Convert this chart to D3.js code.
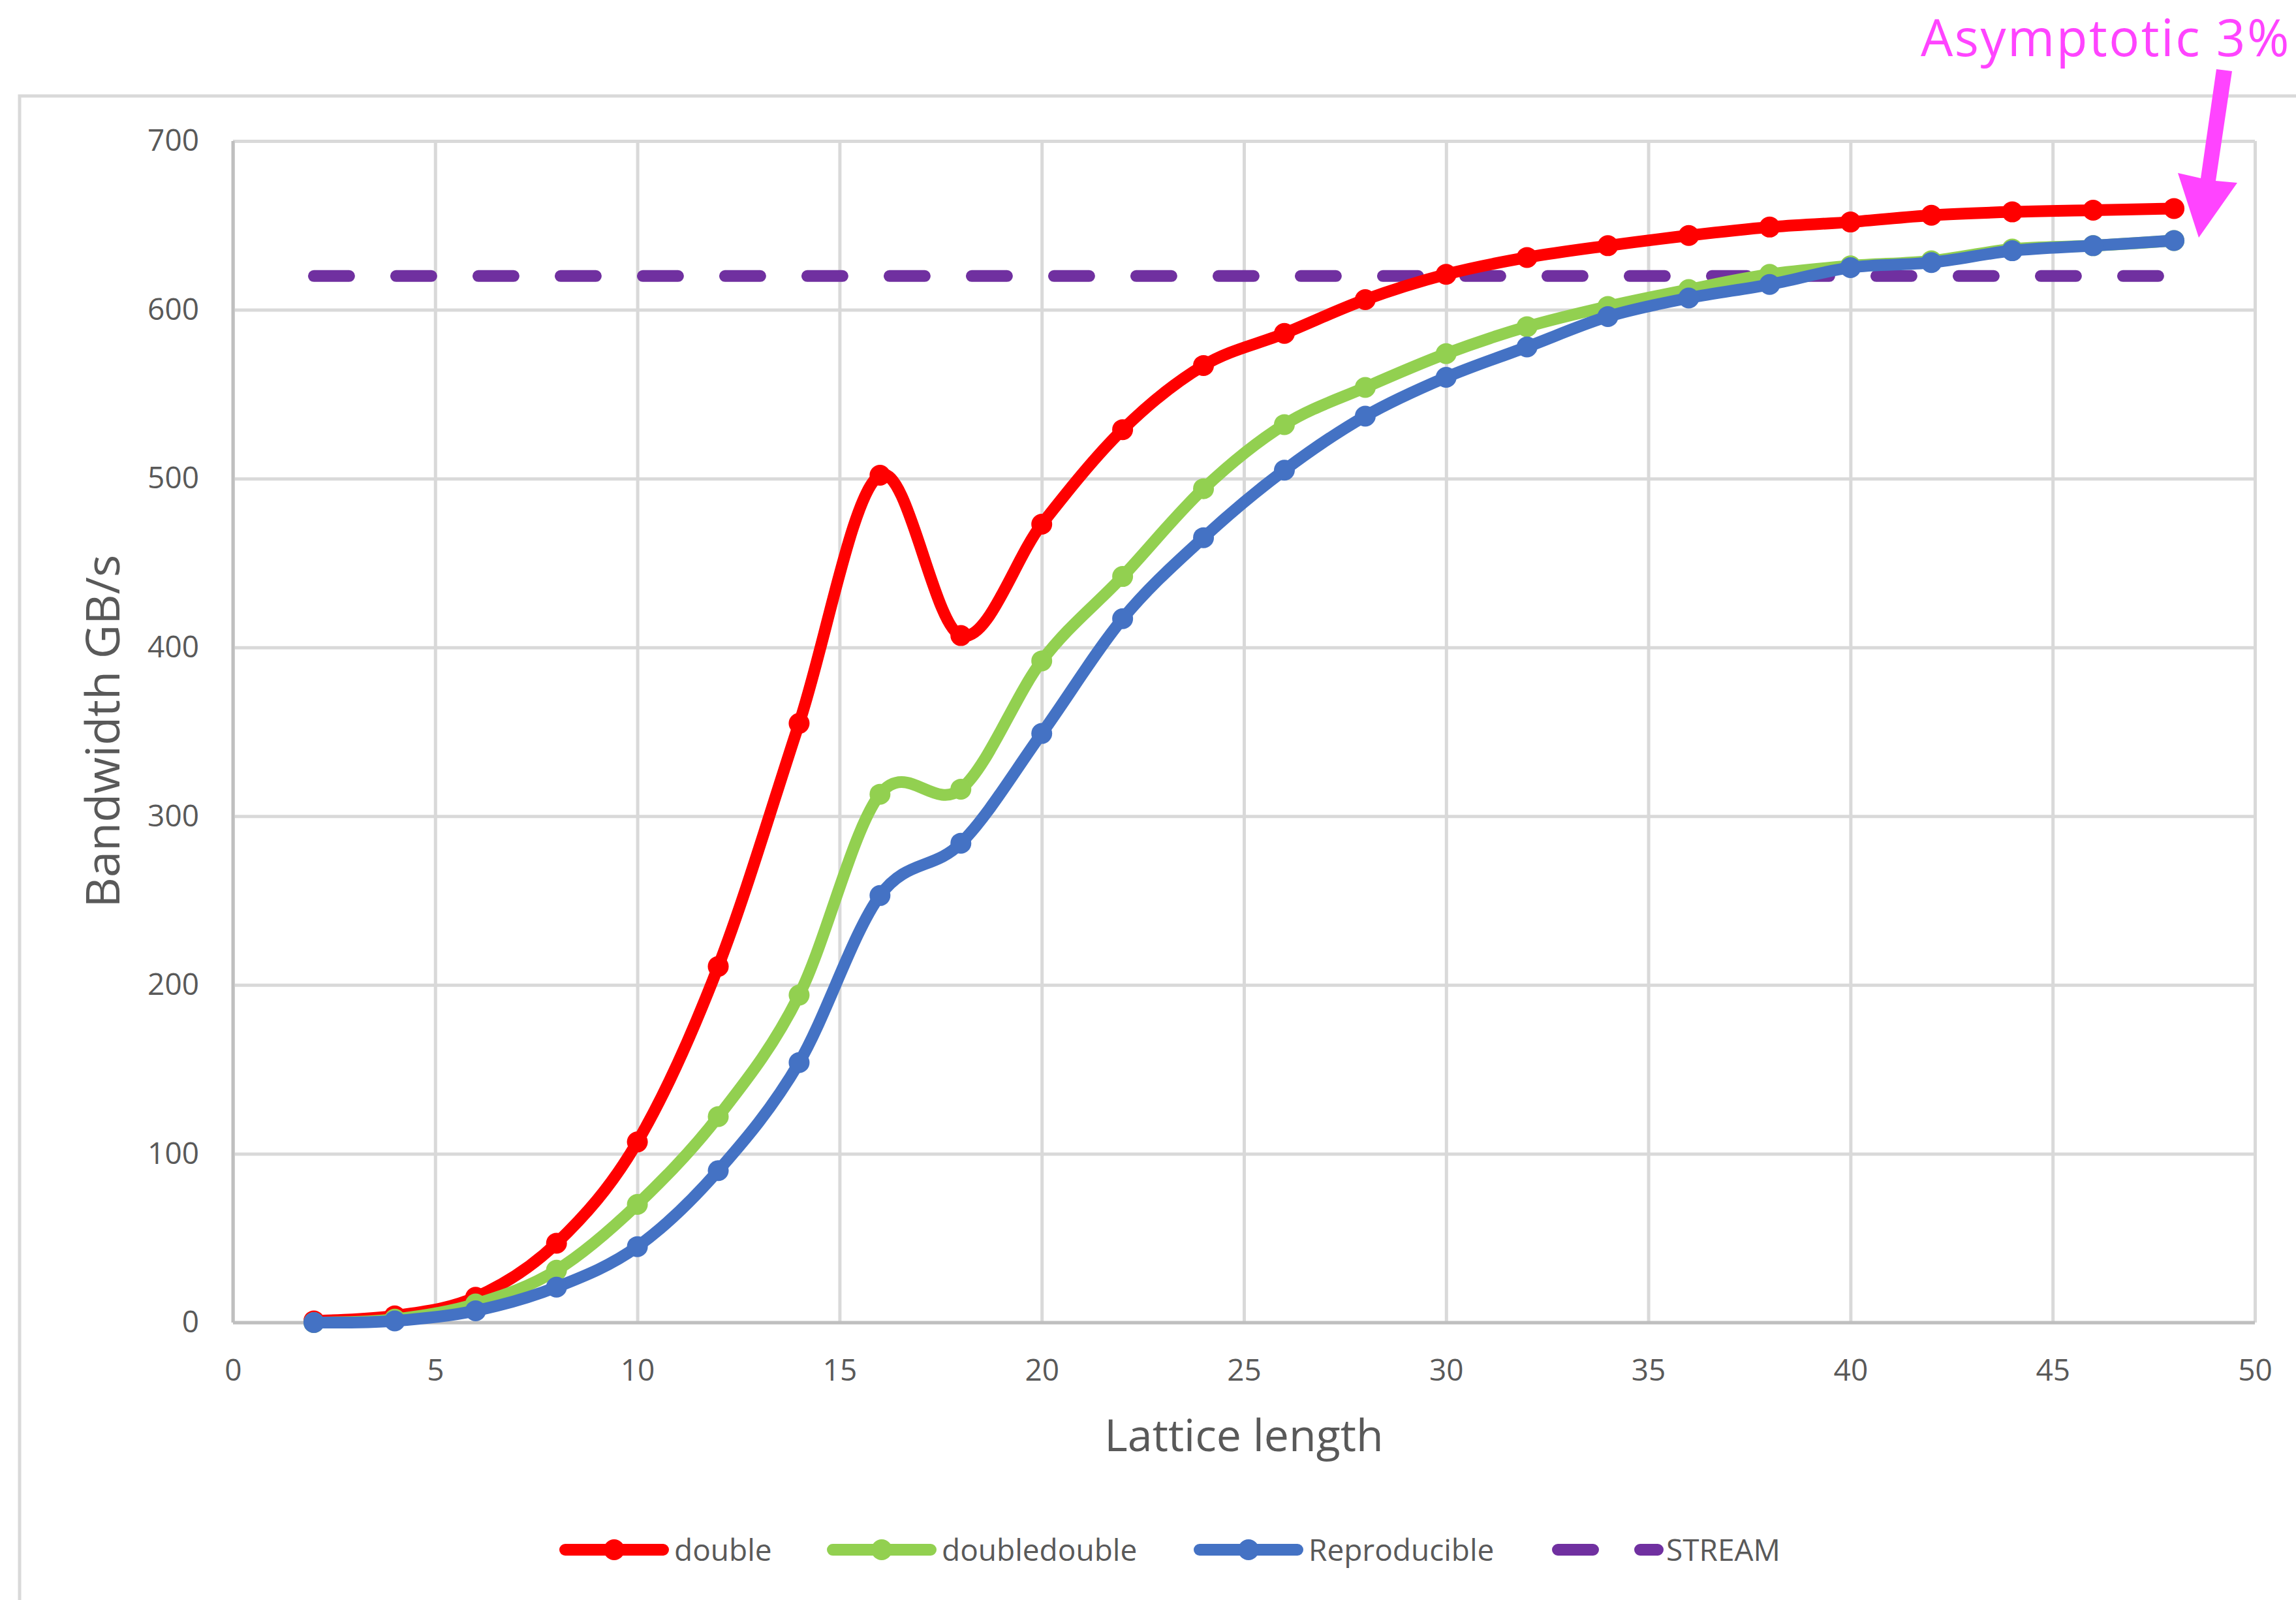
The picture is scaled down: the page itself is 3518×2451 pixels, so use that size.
<!DOCTYPE html>
<html>
<head>
<meta charset="utf-8">
<script src="https://cdn.jsdelivr.net/npm/d3@7"></script>
<style>
	body { margin: 0; background: #ffffff; }
	text { font-family: "Open Sans", "Liberation Sans", sans-serif; }
</style>
</head>
<body>
<div id="bandwidth-chart"></div>
<script>
// lattice lengths (x values)
var latticeLength = [2, 4, 6, 8, 10, 12, 14, 16, 18, 20, 22, 24, 26, 28, 30, 32, 34, 36, 38, 40, 42, 44, 46, 48];

// bandwidth in GB/s for each series
var doubleBw       = [1, 4, 15, 47, 107, 211, 355, 502, 407, 473, 529, 567, 586, 606, 621, 631, 638, 644, 649, 652, 656, 658, 659, 660];
var doubledoubleBw = [0, 2, 11, 31, 70, 122, 194, 313, 316, 392, 442, 494, 532, 554, 574, 590, 602, 612, 621, 626, 629, 636, 638, 641];
var reproducibleBw = [0, 1, 7, 21, 45, 90, 154, 253, 284, 349, 417, 465, 505, 537, 560, 578, 596, 607, 615, 625, 628, 635, 638, 641];

// STREAM reference level and its x extent
var streamLevel = 620;
var streamRange = [2, 48];

// axis ticks
var xTicks = [0, 5, 10, 15, 20, 25, 30, 35, 40, 45, 50];
var yTicks = [0, 100, 200, 300, 400, 500, 600, 700];

// series names and colours
var seriesNames = ["double", "doubledouble", "Reproducible", "STREAM"];
var palate = ["#ff0000", "#92d050", "#4472c4", "#7030a0"];

// annotation
var noteText = "Asymptotic 3%";
var noteColor = "#ff44ff";

// set margins and draw canvas
var margin = {left: 357, right: 63, top: 216, bottom: 425};

var width = 3518 - margin.left - margin.right,
	height = 2451 - margin.top - margin.bottom;

var svg = d3.select("#bandwidth-chart").append("svg")
		.attr("width", 3518)
		.attr("height", 2451);

// outer chart frame (only left and top edges are visible)
svg.append("rect")
	.attr("x", 30)
	.attr("y", 147)
	.attr("width", 3600)
	.attr("height", 2500)
	.attr("fill", "none")
	.attr("stroke", "#d9d9d9")
	.attr("stroke-width", 5);

var canvas = svg.append("g")
	.attr("transform", "translate(" + margin.left + ", " + margin.top + ")");

// scales
var x = d3.scaleLinear()
	.domain([0, 50])
	.range([0, width]);

var y = d3.scaleLinear()
	.domain([0, 700])
	.range([height, 0]);

// gridlines + tick labels
var yAxisCall = d3.axisLeft(y)
	.tickValues(yTicks)
	.tickSize(-width)
	.tickPadding(52);

var yAxis = canvas.append("g")
	.attr("class", "y-axis")
	.call(yAxisCall);

var xAxisCall = d3.axisBottom(x)
	.tickValues(xTicks)
	.tickSize(-height)
	.tickPadding(56);

var xAxis = canvas.append("g")
	.attr("class", "x-axis")
	.attr("transform", "translate(0, " + height + ")")
	.call(xAxisCall);

[xAxis, yAxis].forEach(function(g){
	g.select(".domain").remove();
	g.selectAll("line")
		.attr("stroke", "#d9d9d9")
		.attr("stroke-width", 5);
	g.selectAll("text")
		.attr("fill", "#595959")
		.style("font-size", "46px")
		.style("font-family", "'Open Sans', sans-serif");
});

// darker axis lines at x = 0 and y = 0
canvas.append("line")
	.attr("x1", x(0)).attr("x2", x(0))
	.attr("y1", y(700)).attr("y2", y(0))
	.attr("stroke", "#bfbfbf")
	.attr("stroke-width", 5);

canvas.append("line")
	.attr("x1", x(0)).attr("x2", x(50))
	.attr("y1", y(0)).attr("y2", y(0))
	.attr("stroke", "#bfbfbf")
	.attr("stroke-width", 5);

// x label
svg.append("text")
	.attr("class", "x axis-label")
	.attr("x", 1906)
	.attr("y", 2223)
	.attr("font-size", "68px")
	.attr("fill", "#595959")
	.attr("text-anchor", "middle")
	.text("Lattice length");

// y label
svg.append("text")
	.attr("class", "y axis-label")
	.attr("x", -1120)
	.attr("y", 183)
	.attr("font-size", "72px")
	.attr("fill", "#595959")
	.attr("text-anchor", "middle")
	.attr("transform", "rotate(-90)")
	.text("Bandwidth GB/s");

// STREAM dashed line
canvas.append("line")
	.attr("x1", x(streamRange[0]))
	.attr("x2", x(streamRange[1]))
	.attr("y1", y(streamLevel))
	.attr("y2", y(streamLevel))
	.attr("stroke", palate[3])
	.attr("stroke-width", 18)
	.attr("stroke-linecap", "round")
	.attr("stroke-dasharray", "54 72");

// line generator (Excel style smoothing)
var line = d3.line()
	.x(function(d){ return x(d.x) })
	.y(function(d){ return y(d.y) })
	.curve(d3.curveCardinal.tension(0));

var seriesData = [doubleBw, doubledoubleBw, reproducibleBw];

seriesData.forEach(function(values, i){

	var pts = latticeLength.map(function(l, j){ return {x: l, y: values[j]} });

	canvas.append("path")
		.datum(pts)
		.attr("d", line)
		.attr("fill", "none")
		.attr("stroke", palate[i])
		.attr("stroke-width", 18)
		.attr("stroke-linejoin", "round")
		.attr("stroke-linecap", "round");

	canvas.selectAll(".pt-" + i)
		.data(pts)
		.enter()
		.append("circle")
		.attr("class", "pt-" + i)
		.attr("cx", function(d){ return x(d.x) })
		.attr("cy", function(d){ return y(d.y) })
		.attr("r", 16)
		.attr("fill", palate[i]);
});

// legend
var legendX = [857, 1267, 1829, 2378];
var legend = svg.append("g");

seriesNames.forEach(function(name, i){

	var row = legend.append("g")
		.attr("transform", "translate(" + legendX[i] + ", 2374)");

	if (i < 3) {
		row.append("line")
			.attr("x1", 9).attr("x2", 159)
			.attr("y1", 0).attr("y2", 0)
			.attr("stroke", palate[i])
			.attr("stroke-width", 18)
			.attr("stroke-linecap", "round");
		row.append("circle")
			.attr("cx", 84)
			.attr("cy", 0)
			.attr("r", 16)
			.attr("fill", palate[i]);
	} else {
		row.append("line")
			.attr("x1", 9).attr("x2", 162)
			.attr("y1", 0).attr("y2", 0)
			.attr("stroke", palate[i])
			.attr("stroke-width", 18)
			.attr("stroke-linecap", "round")
			.attr("stroke-dasharray", "54 72");
	}

	row.append("text")
		.attr("x", i < 3 ? 176 : 175)
		.attr("y", 17)
		.attr("fill", "#595959")
		.style("font-size", "46px")
		.text(name);
});

// annotation text and arrow
svg.append("text")
	.attr("x", 2943)
	.attr("y", 86)
	.attr("font-size", "78px")
	.attr("letter-spacing", "2.5px")
	.attr("fill", noteColor)
	.text(noteText);

svg.append("path")
	.attr("d", "M3396,106 L3420,109 L3395,277 L3428,280 L3369,364 L3337,265 L3372,273 Z")
	.attr("fill", noteColor);

</script>
</body>
</html>
